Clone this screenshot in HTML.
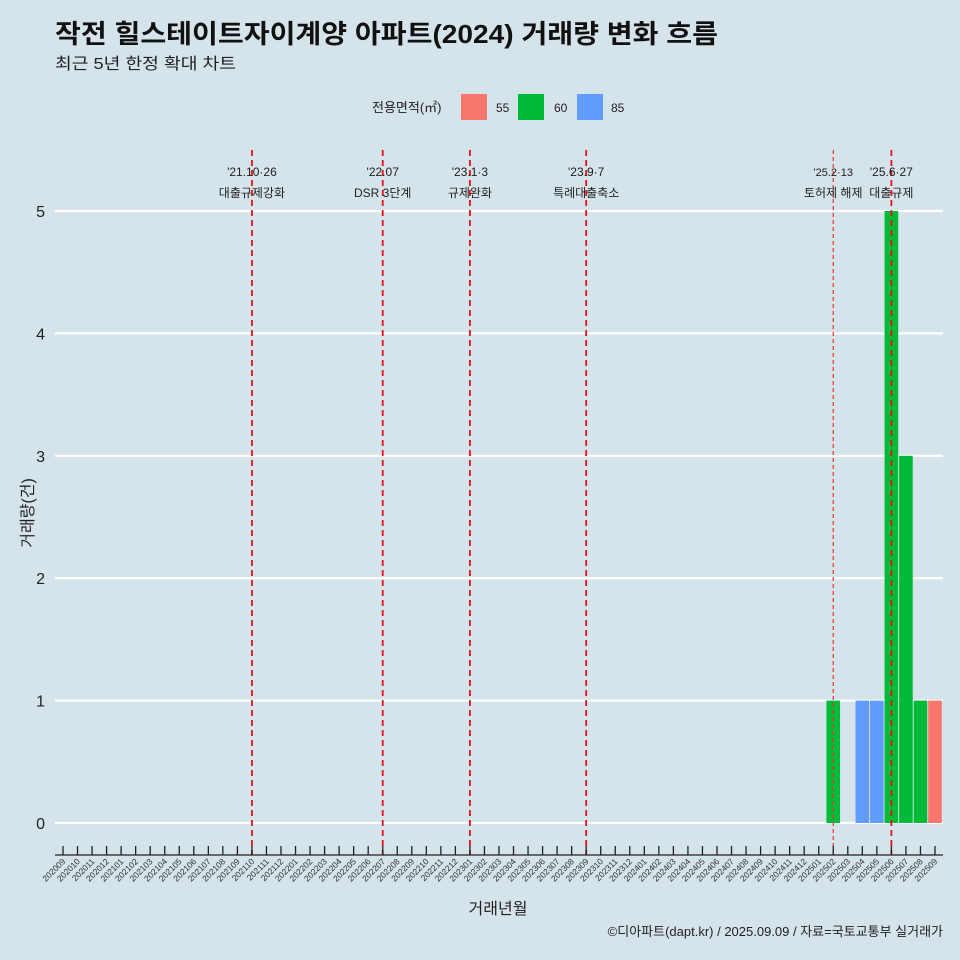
<!DOCTYPE html>
<html><head><meta charset="utf-8"><style>
body{margin:0;background:#d5e3ea;}
svg{display:block;font-family:"Liberation Sans","Noto Sans CJK KR",sans-serif;}
</style></head><body>
<svg id="c" width="960" height="960" viewBox="0 0 960 960">
<rect width="960" height="960" fill="#d5e3ea"/>
<text x="55" y="43" font-size="26" font-weight="bold" fill="#111" textLength="663" lengthAdjust="spacingAndGlyphs">작전 힐스테이트자이계양 아파트(2024) 거래량 변화 흐름</text>
<text x="55" y="69" font-size="16" fill="#222" textLength="181" lengthAdjust="spacingAndGlyphs">최근 5년 한정 확대 차트</text>
<g>
<text x="372" y="112" font-size="13" fill="#222">전용면적(㎡)</text>
<rect x="461" y="94" width="26" height="26" fill="#f8766d"/>
<text x="496" y="112" font-size="12" fill="#222">55</text>
<rect x="518" y="94" width="26" height="26" fill="#00ba38"/>
<text x="554" y="112" font-size="12" fill="#222">60</text>
<rect x="577" y="94" width="26" height="26" fill="#619cff"/>
<text x="611" y="112" font-size="12" fill="#222">85</text>
</g>
<g id="plot"></g>
<text x="498" y="914" font-size="16" text-anchor="middle" fill="#222">거래년월</text>
<text transform="translate(33,513) rotate(-90)" font-size="16" text-anchor="middle" fill="#222">거래량(건)</text>
<text x="943" y="936" font-size="13" text-anchor="end" fill="#222">©디아파트(dapt.kr) / 2025.09.09 / 자료=국토교통부 실거래가</text>
</svg>
<script>
const months=[];for(let y=2020,m=9;!(y===2025&&m===10);){months.push(''+y+(m<10?'0':'')+m);m++;if(m>12){m=1;y++;}}
const yTicks=[0,1,2,3,4,5];
const barMonths=['202502','202504','202505','202506','202507','202508','202509'];
const barAreas=['60','85','85','60','60','60','55'];
const barValues=[1,1,1,5,3,1,1];
const eventMonths=['202110','202207','202301','202309','202502','202506'];
const eventDates=["'21.10·26","'22.07","'23.1·3","'23.9·7","'25.2·13","'25.6·27"];
const eventLabels=['대출규제강화','DSR 3단계','규제완화','특례대출축소','토허제 해제','대출규제'];
const colors={'55':'#f8766d','60':'#00ba38','85':'#619cff'};
const NS='http://www.w3.org/2000/svg';
const g=document.getElementById('plot');
function xs(mo){return 63+months.indexOf(mo)*14.533;}
function ys(v){return 823-v*122.4;}
function el(t,a){const e=document.createElementNS(NS,t);for(const k in a)e.setAttribute(k,a[k]);g.appendChild(e);return e;}
yTicks.forEach(v=>{
 const l=el('line',{x1:55,x2:943,y1:ys(v),y2:ys(v),stroke:'#fff','stroke-width':2.2});
 
 
 const t=el('text',{x:45,y:ys(v)+6,'font-size':16,'text-anchor':'end',fill:'#222'});t.textContent=v;
 
 
});
barMonths.forEach((mo,i)=>{
 const r=el('rect',{x:xs(mo)-6.8,y:ys(barValues[i]),width:13.6,height:ys(0)-ys(barValues[i]),fill:colors[barAreas[i]]});
 
 
});
eventMonths.forEach((mo,i)=>{
 const x=xs(mo),thin=mo==='202502';
 const l=el('line',{x1:x,x2:x,y1:150,y2:855,stroke:thin?'#f03030':'#e8101a','stroke-width':thin?1.2:1.8,'stroke-dasharray':thin?'4,3':'6,4'});
 
 
 const t1=el('text',{x:x,y:176,'font-size':thin?11:12,'text-anchor':'middle',fill:'#222'});t1.textContent=eventDates[i];
 
 
 const t2=el('text',{x:x,y:197,'font-size':12,'text-anchor':'middle',fill:'#222'});t2.textContent=eventLabels[i];
 
 
});
const ax=el('line',{x1:55,x2:943,y1:855,y2:855,stroke:'#222','stroke-width':1.3});


months.forEach(mo=>{
 const x=xs(mo);
 const tk=el('line',{x1:x,x2:x,y1:846,y2:855,stroke:'#222','stroke-width':1.3});
 
 
 const t=el('text',{transform:`translate(${x+3},${862}) rotate(-45)`,'font-size':8.5,'text-anchor':'end',fill:'#333'});t.textContent=mo;
 
 
});
</script>
</body></html>
